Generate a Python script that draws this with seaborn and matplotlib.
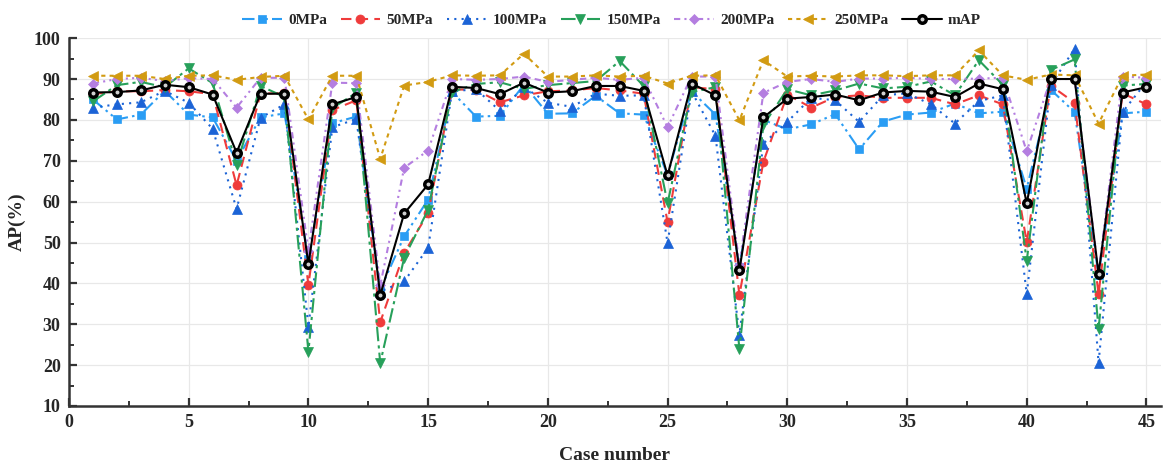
import numpy as np
import pandas as pd
import matplotlib
matplotlib.use("Agg")
import matplotlib.pyplot as plt
import seaborn as sns
from matplotlib.ticker import MultipleLocator

# Detection AP (%) per case under different pressure levels
cases = list(range(1, 46))

ap_0 = [85.0, 80.1, 81.3, 87.1, 81.3, 80.6, 70.0, 80.6, 81.6, 46.0,
        79.2, 80.8, 38.5, 51.5, 60.5, 86.8, 80.8, 81.0, 88.6, 81.5,
        81.6, 85.9, 81.6, 81.3, 66.5, 87.0, 81.3, 44.0, 80.0, 77.7,
        78.9, 81.4, 72.8, 79.6, 81.3, 81.8, 84.0, 81.6, 82.0, 63.2,
        87.4, 81.9, 42.0, 81.6, 82.0]
ap_50 = [86.3, 87.0, 87.0, 87.3, 87.0, 86.3, 64.0, 86.4, 86.6, 39.6,
         82.4, 84.8, 30.5, 47.5, 57.1, 87.5, 87.3, 84.3, 86.0, 87.0,
         87.2, 87.8, 87.2, 86.4, 55.0, 88.0, 87.5, 37.1, 69.7, 86.2,
         83.0, 85.6, 86.0, 85.4, 85.4, 85.4, 83.8, 86.0, 83.8, 50.1,
         88.4, 84.2, 37.4, 86.5, 83.8]
ap_100 = [83.0, 83.8, 84.3, 87.1, 84.2, 77.8, 58.2, 80.5, 83.8, 29.4,
          78.2, 80.2, 38.0, 40.5, 48.7, 87.0, 87.5, 82.2, 88.0, 84.2,
          83.2, 86.4, 85.9, 86.0, 49.9, 87.0, 76.1, 27.4, 74.2, 79.5,
          85.4, 84.8, 79.5, 86.0, 86.5, 83.8, 79.1, 84.6, 86.0, 37.4,
          88.5, 97.4, 20.6, 81.9, 89.3]
ap_150 = [84.5, 88.5, 89.3, 88.0, 92.6, 89.0, 69.0, 88.3, 85.6, 23.3,
          82.9, 86.6, 20.5, 46.3, 58.0, 86.8, 88.8, 89.2, 87.6, 88.5,
          89.0, 89.5, 94.4, 88.3, 59.6, 86.8, 88.0, 23.9, 78.7, 87.5,
          86.0, 87.2, 88.9, 87.7, 88.1, 89.4, 86.0, 94.6, 88.6, 45.5,
          92.2, 94.8, 28.8, 88.4, 88.8]
ap_200 = [88.9, 90.0, 90.3, 89.5, 90.2, 90.0, 83.0, 90.3, 90.3, 48.0,
          89.1, 89.0, 39.5, 68.3, 72.5, 90.0, 89.8, 90.0, 90.6, 89.3,
          89.8, 90.3, 89.8, 90.3, 78.2, 90.6, 90.6, 44.5, 86.6, 89.3,
          90.0, 89.3, 90.1, 90.1, 90.3, 90.0, 90.0, 90.1, 90.3, 72.3,
          90.0, 90.0, 42.5, 90.6, 90.3]
ap_250 = [90.8, 90.8, 90.8, 90.0, 90.8, 90.9, 89.8, 90.5, 90.8, 80.1,
          90.8, 90.8, 70.5, 88.4, 89.3, 90.9, 90.8, 90.9, 96.2, 90.6,
          90.6, 90.9, 90.6, 90.8, 88.9, 90.8, 90.9, 79.9, 94.6, 90.6,
          90.8, 90.6, 90.9, 90.9, 90.7, 90.9, 90.9, 97.0, 90.9, 89.8,
          91.1, 90.9, 79.1, 90.8, 91.1]
ap_map = [86.7, 86.8, 87.2, 88.6, 88.0, 86.2, 72.0, 86.4, 86.4, 44.7,
          83.8, 85.6, 37.1, 57.1, 64.2, 88.1, 87.8, 86.3, 89.1, 86.7,
          87.0, 88.3, 88.3, 87.1, 66.4, 88.9, 86.0, 43.2, 80.6, 85.2,
          85.6, 86.2, 84.8, 86.7, 87.1, 86.9, 85.6, 88.9, 87.5, 59.6,
          90.0, 90.0, 42.3, 86.7, 88.0]

series_labels = ["0MPa", "50MPa", "100MPa", "150MPa", "200MPa", "250MPa", "mAP"]
series_values = [ap_0, ap_50, ap_100, ap_150, ap_200, ap_250, ap_map]

styles = {
    "0MPa":   dict(color="#2a9df4", marker="s", linestyle=(0, (6, 2, 1.2, 2, 1.2, 2)), markersize=6),
    "50MPa":  dict(color="#ef3b3b", marker="o", linestyle=(0, (5, 3)), markersize=6.5),
    "100MPa": dict(color="#1b63d6", marker="^", linestyle=(0, (1, 2.5)), markersize=7),
    "150MPa": dict(color="#27a05a", marker="v", linestyle=(0, (7, 2, 1.5, 2)), markersize=7),
    "200MPa": dict(color="#b47ee0", marker="D", linestyle=(0, (3, 2, 1, 2, 1, 2)), markersize=5.5),
    "250MPa": dict(color="#d29b12", marker="<", linestyle=(0, (2, 2)), markersize=7.5),
    "mAP":    dict(color="black", marker="o", linestyle="-", markersize=5.4,
                   markerfacecolor="#d0d0d0", markeredgecolor="black", markeredgewidth=2.5),
}

df = pd.DataFrame({"case": cases})
for name, vals in zip(series_labels, series_values):
    df[name] = vals

sns.set_theme(style="white")
plt.rcParams["font.family"] = ["Liberation Serif", "DejaVu Serif"]
plt.rcParams["font.weight"] = "bold"

fig = plt.figure(figsize=(11.69, 4.68), dpi=100)
ax = fig.add_axes([0.059, 0.1325, 0.934, 0.786])

for name in series_labels:
    st = dict(styles[name])
    if "markeredgecolor" not in st:
        st["markeredgecolor"] = st["color"]
        st["markerfacecolor"] = st["color"]
        st["markeredgewidth"] = 0.5
    sns.lineplot(data=df, x="case", y=name, ax=ax, label=name, linewidth=1.5,
                 legend=False, **st)

ax.set_xlim(0, 45.6)
ax.set_ylim(10, 100)
ax.xaxis.set_major_locator(MultipleLocator(5))
ax.xaxis.set_minor_locator(MultipleLocator(2.5))
ax.yaxis.set_major_locator(MultipleLocator(10))
ax.yaxis.set_minor_locator(MultipleLocator(5))
ax.grid(True, which="major", color="#e8e8e8", linewidth=0.9)
ax.set_axisbelow(True)

for side in ["top", "right"]:
    ax.spines[side].set_visible(False)
for side in ["left", "bottom"]:
    ax.spines[side].set_color("#333333")
    ax.spines[side].set_linewidth(1.8)

ax.tick_params(which="major", direction="in", length=6, width=1.6, color="#333333",
               labelsize=13, pad=6, bottom=True, left=True)
ax.tick_params(which="minor", direction="in", length=3.5, width=1.4, color="#333333",
               bottom=True, left=True)
for lbl in ax.get_xticklabels() + ax.get_yticklabels():
    lbl.set_fontweight("bold")

ax.set_xlabel("Case number", fontsize=14, fontweight="bold", labelpad=11)
ax.set_ylabel("AP(%)", fontsize=14, fontweight="bold", labelpad=6)

handles, labels = ax.get_legend_handles_labels()
fig.legend(handles, labels, loc="upper center", bbox_to_anchor=(0.523, 1.0), ncol=7,
           frameon=False, prop={"size": 11, "weight": "bold"}, handlelength=2.6,
           columnspacing=0.9, handletextpad=0.4)

fig.savefig("out.png", dpi=100)
